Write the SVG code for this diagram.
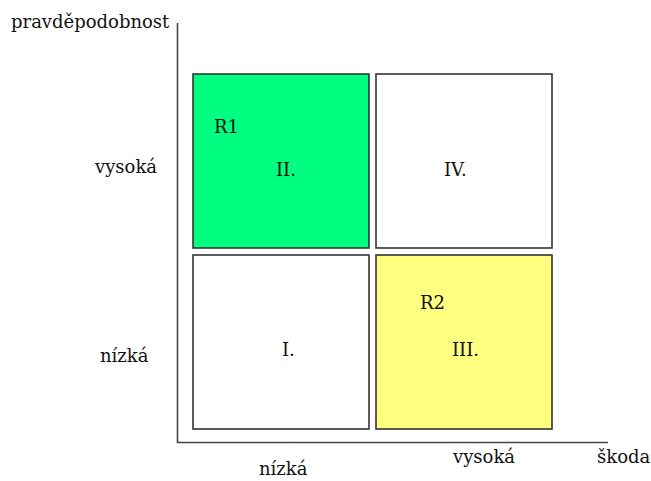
<svg xmlns="http://www.w3.org/2000/svg" width="651" height="481" viewBox="0 0 651 481">
<style>
text{font-family:"DejaVu Serif","Liberation Serif",serif;font-size:18px;fill:#111}
.box{stroke:#333;stroke-width:1.6}
.axis{stroke:#444;stroke-width:1.6;fill:none}
</style>
<rect width="651" height="481" fill="#fff"/>
<g id="axes">
<path class="axis" d="M177.5,23 V442.5 H608"/>
</g>
<g id="axis-labels">
<text x="11" y="28">pravděpodobnost</text>
<text x="95" y="173">vysoká</text>
<text x="100" y="362">nízká</text>
<text x="259" y="475">nízká</text>
<text x="453" y="463">vysoká</text>
<text x="597" y="463">škoda</text>
</g>
<g id="q2"><rect class="box" x="193" y="74" width="176" height="174" fill="#00FF80"/><text x="214" y="133">R1</text><text x="276" y="176">II.</text></g>
<g id="q4"><rect class="box" x="376" y="74" width="176" height="174" fill="#fff"/><text x="444" y="176">IV.</text></g>
<g id="q1"><rect class="box" x="193" y="255" width="176" height="174" fill="#fff"/><text x="282" y="356">I.</text></g>
<g id="q3"><rect class="box" x="376" y="255" width="176" height="174" fill="#FFFF80"/><text x="420" y="309">R2</text><text x="452" y="356">III.</text></g>
</svg>
